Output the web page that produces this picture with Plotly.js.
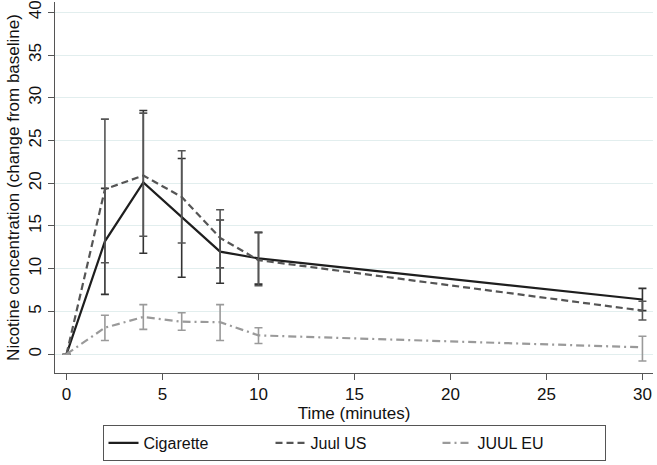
<!DOCTYPE html>
<html>
<head>
<meta charset="utf-8">
<script src="https://cdn.plot.ly/plotly-3.0.1.min.js"></script>
<style>html,body{margin:0;padding:0;background:#fff;}#chart{width:657px;height:465px;}</style>
</head>
<body>
<div id="chart"></div>
<script>
const time = [0, 2, 4, 6, 8, 10, 30];

const cigMean  = [0, 13.2, 20.1, 16.0, 12.0, 11.2, 6.4];
const cigLow   = [0, 7.0, 11.8, 9.0, 8.3, 8.2, 5.1];
const cigHigh  = [0, 19.4, 28.5, 22.9, 15.7, 14.2, 7.7];

const usMean   = [0, 19.3, 20.9, 18.4, 13.6, 11.0, 5.1];
const usLow    = [0, 10.7, 13.8, 13.0, 10.1, 8.0, 4.0];
const usHigh   = [0, 27.5, 28.2, 23.8, 16.9, 14.3, 6.2];

const euMean   = [0, 3.1, 4.35, 3.8, 3.75, 2.2, 0.8];
const euLow    = [0, 1.6, 2.9, 2.8, 1.6, 1.25, -0.8];
const euHigh   = [0, 4.55, 5.8, 4.85, 5.8, 3.1, 2.1];

const seriesNames = ['Cigarette', 'Juul US', 'JUUL EU'];
const xTicks = [0, 5, 10, 15, 20, 25, 30];
const yTicks = [0, 5, 10, 15, 20, 25, 30, 35, 40];

function errs(mean, low, high, color) {
  return {
    type: 'data', symmetric: false,
    array: high.map((h, i) => h - mean[i]),
    arrayminus: mean.map((m, i) => m - low[i]),
    color: color, thickness: 1.6, width: 4
  };
}

const traces = [
  {x: time, y: cigMean, name: seriesNames[0], mode: 'lines', type: 'scatter',
   line: {color: '#1e1e1e', width: 2.2, dash: 'solid'},
   error_y: errs(cigMean, cigLow, cigHigh, '#333333')},
  {x: time, y: usMean, name: seriesNames[1], mode: 'lines', type: 'scatter',
   line: {color: '#555555', width: 2.2, dash: '7px,4px'},
   error_y: errs(usMean, usLow, usHigh, '#555555')},
  {x: time, y: euMean, name: seriesNames[2], mode: 'lines', type: 'scatter',
   line: {color: '#9a9a9a', width: 2.2, dash: '8px,4px,2px,4px'},
   error_y: errs(euMean, euLow, euHigh, '#9a9a9a')}
];

const layout = {
  width: 657, height: 465,
  margin: {l: 55, r: 4, t: 2, b: 92},
  paper_bgcolor: '#ffffff', plot_bgcolor: '#ffffff',
  font: {family: 'Liberation Sans, Arial, sans-serif', size: 17, color: '#111'},
  showlegend: true,
  xaxis: {
    range: [-0.6, 30.55], tickvals: xTicks, ticktext: xTicks.map(String),
    showgrid: false, zeroline: false, showline: true, linecolor: '#555', linewidth: 1,
    ticks: 'outside', ticklen: 6, tickcolor: '#555',
    tickfont: {size: 17}, automargin: false,
    title: {text: 'Time (minutes)', font: {size: 17}, standoff: 0}
  },
  yaxis: {
    range: [-2.2, 41.2], tickvals: yTicks, ticktext: yTicks.map(String),
    tickangle: -90,
    showgrid: true, gridcolor: '#e2eeee', gridwidth: 1,
    zeroline: false, showline: true, linecolor: '#555', linewidth: 1,
    ticks: 'outside', ticklen: 6, tickcolor: '#555',
    tickfont: {size: 17}, automargin: false,
    title: {text: 'Nicotine concentration (change from baseline)', font: {size: 17}, standoff: 2}
  },
  legend: {
    orientation: 'h', x: 0.5, xanchor: 'center', y: -0.14, yanchor: 'top',
    bordercolor: '#555', borderwidth: 1, bgcolor: '#fff',
    font: {size: 16}, entrywidth: 122, entrywidthmode: 'pixels',
    traceorder: 'normal'
  }
};

Plotly.newPlot('chart', traces, layout, {displayModeBar: false, staticPlot: true});
</script>
</body>
</html>
